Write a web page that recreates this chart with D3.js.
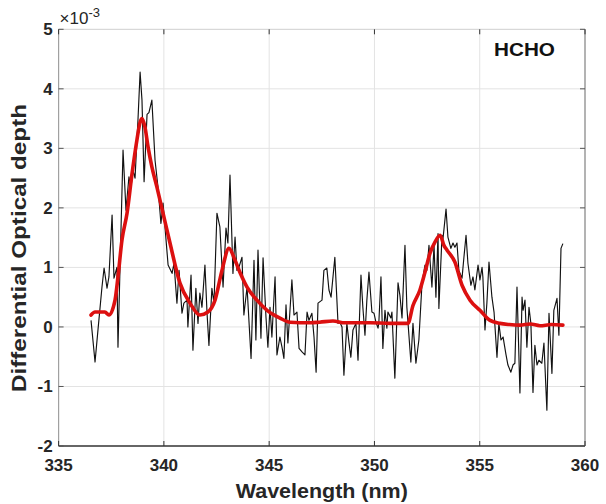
<!DOCTYPE html>
<meta charset="utf-8">
<style>
  body { margin: 0; background: #fff; }
  svg text { font-family: "Liberation Sans", Arial, Helvetica, sans-serif; fill: #262626; }
  .tick-label { font-size: 17px; font-weight: bold; }
  .axis-title { font-size: 21px; font-weight: bold; }
</style>
<svg width="606" height="504"></svg>
<script src="https://d3js.org/d3.v7.min.js"></script>
<script>
  // measured spectrum (black) - wavelength (nm) and differential optical depth (x1e-3)
  var measWl = [336.54, 336.73, 336.87, 337.06, 337.16, 337.30, 337.39, 337.54, 337.63, 337.77, 337.82,
    338.06, 338.20, 338.34, 338.44, 338.53, 338.63, 338.77, 338.87, 338.96, 339.06, 339.20, 339.29, 339.43,
    339.58, 339.72, 339.86, 339.96, 340.20, 340.39, 340.48, 340.62, 340.72, 340.86, 340.95, 341.10, 341.14,
    341.29, 341.38, 341.52, 341.62, 341.71, 341.81, 341.95, 342.05, 342.14, 342.28, 342.38, 342.52, 342.66,
    342.81, 342.95, 343.04, 343.14, 343.28, 343.38, 343.47, 343.57, 343.71, 343.80, 343.95, 344.14, 344.28,
    344.37, 344.47, 344.61, 344.71, 344.85, 344.94, 345.04, 345.13, 345.28, 345.37, 345.51, 345.61, 345.70,
    345.80, 345.89, 346.08, 346.18, 346.32, 346.42, 346.56, 346.70, 346.80, 346.89, 347.03, 347.13, 347.23,
    347.32, 347.51, 347.60, 347.74, 347.84, 347.94, 348.12, 348.27, 348.36, 348.46, 348.55, 348.69, 348.79,
    348.88, 348.98, 349.12, 349.22, 349.36, 349.45, 349.55, 349.64, 349.74, 349.88, 349.98, 350.07, 350.17,
    350.21, 350.31, 350.40, 350.50, 350.59, 350.64, 350.78, 350.83, 350.97, 351.12, 351.21, 351.31, 351.45,
    351.54, 351.73, 351.83, 351.97, 352.11, 352.26, 352.40, 352.49, 352.59, 352.73, 352.83, 352.92, 353.02,
    353.06, 353.21, 353.25, 353.40, 353.49, 353.63, 353.73, 353.82, 353.92, 354.01, 354.16, 354.25, 354.35,
    354.44, 354.58, 354.68, 354.77, 354.87, 354.92, 355.01, 355.11, 355.15, 355.25, 355.34, 355.44, 355.58,
    355.68, 355.82, 355.91, 356.01, 356.11, 356.25, 356.34, 356.48, 356.58, 356.67, 356.77, 356.91, 357.01,
    357.06, 357.15, 357.24, 357.34, 357.43, 357.53, 357.62, 357.72, 357.81, 357.95, 358.05, 358.19, 358.29,
    358.43, 358.52, 358.67, 358.76, 358.86, 358.95];
  var measOd = [0.11, -0.59, -0.05, 0.67, 0.99, 0.65, 0.84, 1.88, 0.82, 1.00, -0.34,
    2.97, 1.96, 2.52, 2.35, 2.64, 2.50, 3.48, 4.28, 3.81, 2.44, 3.57, 3.60, 3.81,
    2.80, 2.35, 1.74, 2.08, 1.04, 0.90, 1.07, 0.40, 0.95, 0.23, 0.40, 0.45, 0.00,
    0.87, -0.39, 0.65, 0.06, 0.57, 0.33, 1.04, 0.23, -0.31, 0.65, 0.40, 1.91, 1.68,
    0.67, 1.66, 1.41, 2.55, 0.90, 1.51, 0.95, 1.01, 1.17, 0.20, 0.67, -0.53, 1.12,
    -0.22, 1.29, -0.19, 1.16, 0.16, -0.34, 0.33, -0.17, 0.84, -0.47, -0.17, -0.34, -0.53,
    0.37, -0.27, 0.79, 0.20, 0.25, -0.36, -0.42, -0.47, 0.25, 0.11, 0.23, -0.17, -0.76,
    0.40, 0.45, 0.95, 0.99, 0.62, 0.50, 1.17, 0.06, 0.08, 0.00, -0.81, 0.06, -0.26,
    -0.51, -0.05, 0.06, -0.56, 0.87, 0.33, -0.14, 0.45, 0.92, 0.25, 0.23, 0.08, -0.02,
    0.08, 0.84, -0.36, 0.28, -0.02, 0.25, 0.15, 0.25, -0.86, 0.74, 0.53, 0.15, 1.37,
    0.33, -0.59, 0.06, -0.61, -0.22, 0.74, 1.04, 0.95, 1.37, 0.67, 1.37, 0.50, 1.57,
    0.31, 1.54, 1.46, 1.98, 1.51, 1.32, 1.41, 1.34, 1.41, 0.95, 0.82, 1.17, 1.54,
    1.07, 0.70, 0.84, 0.62, 0.90, 1.04, 0.79, 1.00, 0.84, -0.05, 0.40, 1.09, 0.50,
    0.25, -0.51, 0.06, -0.22, -0.17, -0.47, -0.64, -0.76, -0.64, -0.61, 0.67, -1.11, 0.50,
    0.28, 0.45, -0.34, 0.33, 0.06, -1.10, -0.31, -0.64, -0.56, -0.61, -0.27, -1.40, 0.23,
    -0.78, 0.28, 0.48, -0.14, 1.32, 1.40];

  // fitted HCHO cross section (red)
  var fitWl = [336.54, 336.73, 337.20, 337.39, 337.68, 337.82, 338.01, 338.25, 338.49, 338.72, 338.87,
    338.96, 339.10, 339.25, 339.43, 339.67, 339.96, 340.29, 340.76, 341.24, 341.71, 342.09, 342.43, 342.76,
    343.09, 343.38, 343.61, 343.95, 344.42, 344.90, 345.51, 345.99, 346.94, 347.40, 348.03, 348.60, 349.79,
    350.74, 351.59, 351.83, 352.16, 352.40, 352.64, 352.88, 353.12, 353.30, 353.45, 353.82, 354.16, 354.54,
    355.01, 355.49, 355.96, 356.40, 356.91, 357.40, 357.86, 358.40, 358.95];
  var fitOd = [0.20, 0.25, 0.25, 0.20, 0.45, 0.84, 1.46, 1.91, 2.58, 3.14, 3.44,
    3.50, 3.36, 3.02, 2.69, 2.35, 1.91, 1.41, 0.74, 0.40, 0.20, 0.25, 0.45, 0.95,
    1.32, 1.12, 0.92, 0.67, 0.45, 0.28, 0.15, 0.08, 0.07, 0.08, 0.10, 0.07, 0.07,
    0.06, 0.06, 0.36, 0.62, 0.92, 1.24, 1.43, 1.54, 1.37, 1.29, 1.09, 0.70, 0.45,
    0.28, 0.11, 0.06, 0.04, 0.03, 0.05, 0.02, 0.04, 0.03];

  var xTicks = [335, 340, 345, 350, 355, 360];
  var yTicks = [-2, -1, 0, 1, 2, 3, 4, 5];

  var svg = d3.select("svg"),
    margin = { top: 29.3, right: 21, bottom: 58, left: 58.6 },
    width = +svg.attr("width") - margin.left - margin.right,
    height = +svg.attr("height") - margin.top - margin.bottom,
    g = svg.append("g").attr("transform", "translate(" + margin.left + "," + margin.top + ")");

  var x = d3.scaleLinear().domain([335, 360]).range([0, width]);
  var y = d3.scaleLinear().domain([-2, 5]).range([height, 0]);

  // grid
  g.append("g").selectAll("line").data(xTicks.slice(1, -1)).enter().append("line")
    .attr("x1", function (d) { return x(d); }).attr("x2", function (d) { return x(d); })
    .attr("y1", 0).attr("y2", height)
    .attr("stroke", "#e3e3e3").attr("stroke-width", 1);
  g.append("g").selectAll("line").data(yTicks.slice(1, -1)).enter().append("line")
    .attr("x1", 0).attr("x2", width)
    .attr("y1", function (d) { return y(d); }).attr("y2", function (d) { return y(d); })
    .attr("stroke", "#e3e3e3").attr("stroke-width", 1);

  // data lines
  var meas = measWl.map(function (w, i) { return [w, measOd[i]]; });
  var fit = fitWl.map(function (w, i) { return [w, fitOd[i]]; });

  var line = d3.line()
    .x(function (d) { return x(d[0]); })
    .y(function (d) { return y(d[1]); });

  g.append("path").datum(meas)
    .attr("d", line)
    .attr("fill", "none").attr("stroke", "#111").attr("stroke-width", 1.15)
    .attr("stroke-linejoin", "round");

  g.append("path").datum(fit)
    .attr("d", line.curve(d3.curveMonotoneX))
    .attr("fill", "none").attr("stroke", "#dc1010").attr("stroke-width", 3.6)
    .attr("stroke-linejoin", "round").attr("stroke-linecap", "round");

  // box
  g.append("line").attr("x1", 0).attr("x2", width).attr("y1", 0).attr("y2", 0).attr("stroke", "#cfcfcf");
  g.append("line").attr("x1", width).attr("x2", width).attr("y1", 0).attr("y2", height).attr("stroke", "#9a9a9a").attr("stroke-width", 1.5);
  g.append("line").attr("x1", 0).attr("x2", 0).attr("y1", 0).attr("y2", height).attr("stroke", "#a0a0a0").attr("stroke-width", 1.2);
  g.append("line").attr("x1", 0).attr("x2", width).attr("y1", height).attr("y2", height).attr("stroke", "#333").attr("stroke-width", 1.3);

  // inward ticks on all sides
  var tl = 5;
  xTicks.forEach(function (d) {
    g.append("line").attr("x1", x(d)).attr("x2", x(d)).attr("y1", height).attr("y2", height - tl).attr("stroke", "#333");
    g.append("line").attr("x1", x(d)).attr("x2", x(d)).attr("y1", 0).attr("y2", tl).attr("stroke", "#333");
  });
  yTicks.forEach(function (d) {
    g.append("line").attr("x1", 0).attr("x2", tl).attr("y1", y(d)).attr("y2", y(d)).attr("stroke", "#555");
    g.append("line").attr("x1", width).attr("x2", width - tl).attr("y1", y(d)).attr("y2", y(d)).attr("stroke", "#555");
  });

  // tick labels
  g.selectAll(".xl").data(xTicks).enter().append("text")
    .attr("class", "tick-label")
    .attr("x", function (d) { return x(d); })
    .attr("y", height + 25)
    .attr("text-anchor", "middle")
    .text(function (d) { return d; });
  g.selectAll(".yl").data(yTicks).enter().append("text")
    .attr("class", "tick-label")
    .attr("x", -6)
    .attr("y", function (d) { return y(d) + 6; })
    .attr("text-anchor", "end")
    .text(function (d) { return d; });

  // exponent
  var ex = g.append("text").attr("x", 1).attr("y", -5).style("font-size", "17px");
  ex.append("tspan").text("\u00d710");
  ex.append("tspan").attr("dy", -7).style("font-size", "13px").text("-3");

  // axis titles
  svg.append("text").attr("class", "axis-title")
    .attr("x", margin.left + width / 2).attr("y", 498)
    .attr("text-anchor", "middle")
    .attr("textLength", 172).attr("lengthAdjust", "spacingAndGlyphs")
    .text("Wavelength (nm)");
  svg.append("text").attr("class", "axis-title")
    .attr("transform", "translate(26,248) rotate(-90)")
    .attr("text-anchor", "middle")
    .attr("textLength", 288).attr("lengthAdjust", "spacingAndGlyphs")
    .text("Differential Optical depth");

  g.append("text")
    .attr("x", width - 30).attr("y", 27)
    .attr("text-anchor", "end")
    .attr("textLength", 61).attr("lengthAdjust", "spacingAndGlyphs")
    .style("font-size", "19px").style("font-weight", "bold").style("fill", "#111")
    .text("HCHO");
</script>
